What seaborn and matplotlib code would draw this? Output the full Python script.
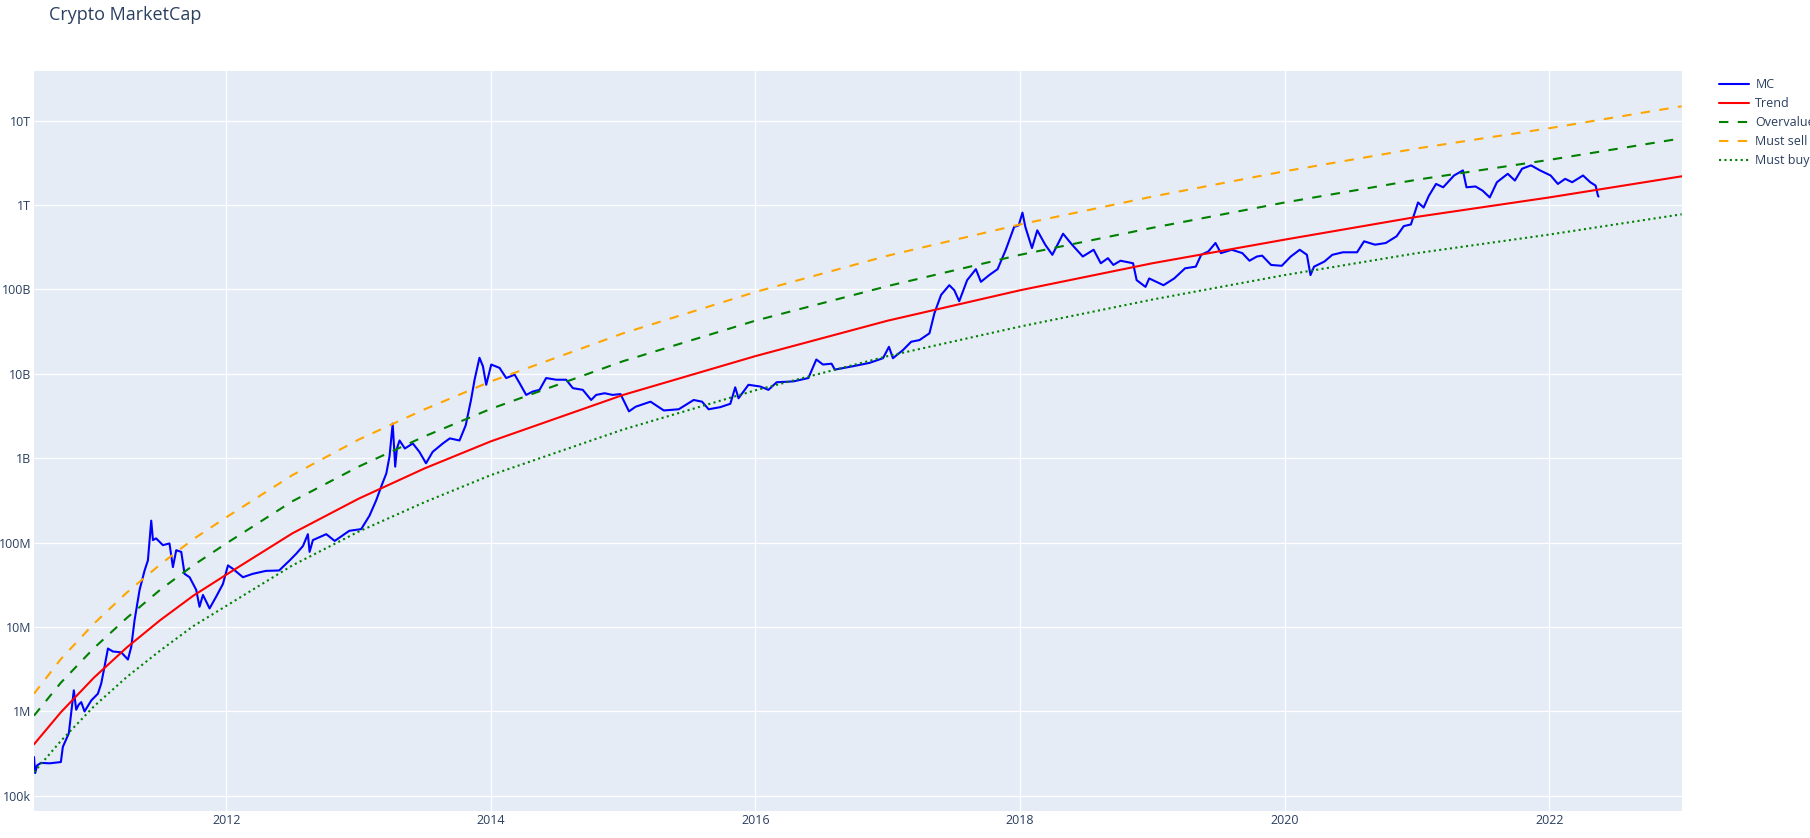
import matplotlib
matplotlib.use("Agg")
import matplotlib.pyplot as plt
import numpy as np
import seaborn as sns

# market cap trace (fractional year, log10 of USD)
mc_year = [
    2010.547, 2010.556, 2010.57, 2010.60, 2010.665, 2010.75, 2010.765, 2010.81,
    2010.828, 2010.848, 2010.866, 2010.885, 2010.904, 2010.929, 2010.98, 2011.03,
    2011.055, 2011.08, 2011.106, 2011.143, 2011.206, 2011.257, 2011.282, 2011.307,
    2011.345, 2011.383, 2011.408, 2011.433, 2011.446, 2011.47, 2011.521, 2011.571,
    2011.597, 2011.622, 2011.66, 2011.685, 2011.723, 2011.773, 2011.798, 2011.824,
    2011.874, 2011.924, 2011.975, 2012.013, 2012.05, 2012.126, 2012.2, 2012.30,
    2012.40, 2012.48, 2012.53, 2012.58, 2012.617, 2012.63, 2012.655, 2012.756,
    2012.82, 2012.93, 2013.02, 2013.083, 2013.133, 2013.18, 2013.21, 2013.234,
    2013.258, 2013.277, 2013.29, 2013.31, 2013.35, 2013.41, 2013.46, 2013.51,
    2013.56, 2013.637, 2013.69, 2013.763, 2013.81, 2013.85, 2013.877, 2013.914,
    2013.94, 2013.965, 2014.003, 2014.066, 2014.116, 2014.18, 2014.217, 2014.267,
    2014.317, 2014.368, 2014.418, 2014.494, 2014.569, 2014.62, 2014.695, 2014.758,
    2014.796, 2014.86, 2014.92, 2014.98, 2015.044, 2015.094, 2015.207, 2015.307,
    2015.42, 2015.533, 2015.596, 2015.646, 2015.734, 2015.81, 2015.847, 2015.872,
    2015.947, 2016.035, 2016.098, 2016.16, 2016.286, 2016.40, 2016.46, 2016.51,
    2016.575, 2016.60, 2016.738, 2016.863, 2016.964, 2017.009, 2017.039, 2017.114,
    2017.177, 2017.24, 2017.315, 2017.353, 2017.403, 2017.465, 2017.503, 2017.54,
    2017.60, 2017.666, 2017.704, 2017.767, 2017.83, 2017.892, 2017.955, 2017.99,
    2018.018, 2018.04, 2018.09, 2018.13, 2018.19, 2018.244, 2018.325, 2018.393,
    2018.474, 2018.556, 2018.61, 2018.664, 2018.705, 2018.759, 2018.854, 2018.881,
    2018.948, 2018.976, 2019.084, 2019.165, 2019.247, 2019.328, 2019.369, 2019.423,
    2019.477, 2019.518, 2019.60, 2019.68, 2019.734, 2019.79, 2019.83, 2019.897,
    2019.978, 2020.046, 2020.114, 2020.168, 2020.195, 2020.222, 2020.30, 2020.36,
    2020.44, 2020.547, 2020.60, 2020.683, 2020.764, 2020.846, 2020.90, 2020.954,
    2021.008, 2021.05, 2021.09, 2021.144, 2021.198, 2021.28, 2021.347, 2021.374,
    2021.442, 2021.496, 2021.55, 2021.604, 2021.686, 2021.74, 2021.794, 2021.862,
    2021.93, 2022.01, 2022.065, 2022.12, 2022.173, 2022.255, 2022.31, 2022.35,
    2022.368, 2022.372,
]
mc_log10 = [
    5.46, 5.27, 5.36, 5.39, 5.385, 5.40, 5.58, 5.74,
    5.98, 6.25, 6.02, 6.08, 6.11, 6.00, 6.13, 6.21,
    6.33, 6.53, 6.745, 6.71, 6.70, 6.615, 6.765, 7.08,
    7.44, 7.67, 7.79, 8.26, 8.03, 8.05, 7.97, 7.99,
    7.71, 7.91, 7.89, 7.63, 7.59, 7.44, 7.24, 7.38,
    7.22, 7.36, 7.51, 7.73, 7.69, 7.59, 7.63, 7.665,
    7.67, 7.79, 7.87, 7.96, 8.10, 7.89, 8.03, 8.10,
    8.02, 8.14, 8.16, 8.32, 8.50, 8.70, 8.82, 9.02,
    9.41, 8.90, 9.115, 9.21, 9.115, 9.175, 9.075, 8.94,
    9.075, 9.175, 9.235, 9.21, 9.39, 9.69, 9.93, 10.19,
    10.09, 9.87, 10.11, 10.07, 9.95, 9.99, 9.89, 9.75,
    9.79, 9.81, 9.95, 9.93, 9.93, 9.83, 9.81, 9.69,
    9.75, 9.77, 9.75, 9.76, 9.555, 9.61, 9.67, 9.566,
    9.58, 9.69, 9.67, 9.58, 9.605, 9.645, 9.84, 9.71,
    9.87, 9.85, 9.81, 9.90, 9.91, 9.95, 10.17, 10.11,
    10.12, 10.05, 10.09, 10.13, 10.185, 10.32, 10.185, 10.28,
    10.38, 10.40, 10.48, 10.72, 10.935, 11.05, 10.99, 10.86,
    11.11, 11.24, 11.09, 11.17, 11.24, 11.47, 11.74, 11.76,
    11.91, 11.74, 11.49, 11.70, 11.53, 11.41, 11.66, 11.53,
    11.39, 11.47, 11.31, 11.37, 11.29, 11.34, 11.31, 11.11,
    11.03, 11.13, 11.05, 11.13, 11.25, 11.27, 11.41, 11.45,
    11.55, 11.43, 11.47, 11.43, 11.34, 11.39, 11.40, 11.29,
    11.28, 11.39, 11.47, 11.41, 11.17, 11.27, 11.33, 11.41,
    11.44, 11.44, 11.57, 11.53, 11.55, 11.63, 11.75, 11.77,
    12.03, 11.97, 12.11, 12.25, 12.21, 12.35, 12.41, 12.21,
    12.22, 12.17, 12.09, 12.27, 12.37, 12.29, 12.43, 12.47,
    12.41, 12.35, 12.25, 12.31, 12.27, 12.35, 12.27, 12.23,
    12.11, 12.10,
]

# trend and band curves at these years (log10 of USD)
band_year = [
    2010.547, 2010.75, 2011.0, 2011.25, 2011.5, 2011.75, 2012.0, 2012.5,
    2013.0, 2013.5, 2014.0, 2015.0, 2016.0, 2017.0, 2018.0, 2019.0,
    2020.0, 2021.0, 2022.0, 2023.0,
]
trend_log10 = [
    5.61, 5.99, 6.40, 6.76, 7.08, 7.37, 7.62, 8.11,
    8.52, 8.88, 9.20, 9.75, 10.21, 10.63, 10.99, 11.31,
    11.59, 11.86, 12.09, 12.34,
]
overvalued_log10 = [
    5.95, 6.34, 6.75, 7.11, 7.44, 7.73, 7.99, 8.49,
    8.90, 9.26, 9.585, 10.15, 10.63, 11.04, 11.41, 11.73,
    12.03, 12.30, 12.535, 12.79,
]
must_sell_log10 = [
    6.21, 6.62, 7.04, 7.41, 7.74, 8.04, 8.30, 8.80,
    9.22, 9.58, 9.91, 10.48, 10.97, 11.40, 11.77, 12.10,
    12.40, 12.67, 12.91, 13.17,
]
must_buy_log10 = [
    5.28, 5.65, 6.06, 6.41, 6.72, 7.01, 7.25, 7.73,
    8.13, 8.48, 8.80, 9.34, 9.805, 10.21, 10.56, 10.88,
    11.17, 11.43, 11.65, 11.89,
]

x_ticks = [2012, 2014, 2016, 2018, 2020, 2022]
x_tick_labels = ["2012", "2014", "2016", "2018", "2020", "2022"]
y_ticks = [1e5, 1e6, 1e7, 1e8, 1e9, 1e10, 1e11, 1e12, 1e13]
y_tick_labels = ["100k", "1M", "10M", "100M", "1B", "10B", "100B", "1T", "10T"]

FONT_COLOR = "#2a3f5f"

sns.set_theme(style="darkgrid", rc={
    "axes.facecolor": "#E5ECF6",
    "figure.facecolor": "white",
    "grid.color": "white",
    "grid.linewidth": 0.9,
})
plt.rcParams["font.family"] = ["Open Sans", "DejaVu Sans"]

fig = plt.figure(figsize=(18.1, 8.38), dpi=100)
ax = fig.add_axes([34 / 1810, 1 - 811 / 838, (1682 - 34) / 1810, (811 - 71) / 838])

lw = 1.5
sns.lineplot(x=mc_year, y=np.power(10, mc_log10), ax=ax, color="#0000ff",
             lw=lw, label="MC")
sns.lineplot(x=band_year, y=np.power(10, trend_log10), ax=ax, color="red",
             lw=lw, label="Trend")
sns.lineplot(x=band_year, y=np.power(10, overvalued_log10), ax=ax, color="green",
             lw=lw, label="Overvalued", dashes=False)
sns.lineplot(x=band_year, y=np.power(10, must_sell_log10), ax=ax, color="orange",
             lw=lw, label="Must sell", dashes=False)
sns.lineplot(x=band_year, y=np.power(10, must_buy_log10), ax=ax, color="green",
             lw=lw, label="Must buy", dashes=False)

lines = ax.get_lines()
lines[2].set_dashes((4.5, 4.5))
lines[3].set_dashes((4.5, 4.5))
lines[4].set_dashes((1.0, 1.6))

ax.set_yscale("log")
ax.set_xlim(2010.547, 2023.003)
ax.set_ylim(10 ** 4.82, 10 ** 13.588)
ax.set_xticks(x_ticks)
ax.set_xticklabels(x_tick_labels)
ax.set_yticks(y_ticks)
ax.set_yticklabels(y_tick_labels)
ax.minorticks_off()
ax.tick_params(axis="both", length=0, labelsize=9, labelcolor=FONT_COLOR, pad=2)
ax.set_xlabel("")
ax.set_ylabel("")
for s in ax.spines.values():
    s.set_visible(False)

# legend sits to the right of the plot; long labels run off the canvas as in plotly
ax.legend(loc="upper left", bbox_to_anchor=(1719 / 1810, 1 - 78 / 838),
          bbox_transform=fig.transFigure, frameon=False, fontsize=9,
          handlelength=2.4, handletextpad=0.5, labelspacing=0.48,
          borderaxespad=0, borderpad=0, labelcolor=FONT_COLOR)

fig.text(49 / 1810, 1 - 15 / 838, "Crypto MarketCap", fontsize=13,
         color=FONT_COLOR, va="center", ha="left")

fig.savefig("out.png", dpi=100)
